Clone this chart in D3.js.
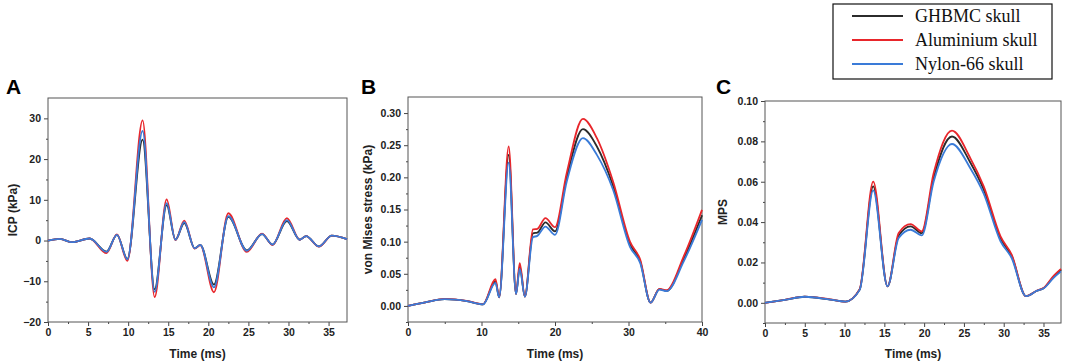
<!DOCTYPE html>
<html>
<head>
<meta charset="utf-8">
<title>ICP / von Mises / MPS</title>
<script src="https://cdn.jsdelivr.net/npm/d3@7"></script>
<style>
  body { margin: 0; background: #fff; }
  svg { display: block; }
  .tick text { font-family: "Liberation Sans", Arial, sans-serif; font-weight: bold; font-size: 10.5px; fill: #222; }
  .ttl { font-family: "Liberation Sans", Arial, sans-serif; font-weight: bold; font-size: 12px; fill: #222; }
  .plabel { font-family: "Liberation Sans", Arial, sans-serif; font-weight: bold; font-size: 21px; fill: #000; }
  .leg { font-family: "Liberation Serif", "Times New Roman", serif; font-size: 18px; fill: #111; }
</style>
</head>
<body>
<svg width="1065" height="363"></svg>
<script>
// ---- data ----
const seriesNames = ["GHBMC skull", "Aluminium skull", "Nylon-66 skull"];
const seriesColors = ["#2b2b2b", "#e8262b", "#3a7bd8"];

// A: ICP (kPa)
const timeA = [0, 1.5, 3.0, 5.2, 7.3, 8.6, 9.9, 11.8, 13.3, 14.8, 15.9, 17.0, 18.3, 19.0, 20.7, 22.5, 24.8, 26.7, 28.0, 29.8, 31.4, 32.2, 33.8, 35.4, 37.3];
const icpGhbmc = [0, 0.4, -0.4, 0.5, -2.7, 1.4, -4.5, 24.8, -12.0, 8.7, 0.2, 4.3, -1.9, -1.05, -10.8, 5.8, -2.4, 1.6, -1.0, 4.8, 0.2, 1.1, -1.45, 1.2, 0.35];
const icpAlu    = [0, 0.4, -0.4, 0.5, -3.1, 1.5, -5.0, 29.5, -13.9, 10.1, 0.1, 4.9, -2.0, -1.1, -12.7, 6.7, -2.8, 1.7, -1.1, 5.5, 0.2, 1.1, -1.5, 1.2, 0.35];
const icpNylon  = [0, 0.4, -0.4, 0.5, -2.8, 1.4, -4.6, 26.9, -12.6, 9.2, 0.2, 4.5, -1.9, -1.05, -11.5, 6.0, -2.5, 1.6, -1.0, 5.0, 0.2, 1.1, -1.45, 1.2, 0.35];

// B: von Mises stress (kPa)
const timeB = [0, 2.5, 5.0, 8.0, 10.2, 11.9, 12.4, 13.7, 14.7, 15.2, 15.9, 17.0, 17.6, 18.7, 20.0, 21.6, 23.8, 25.7, 27.9, 30.2, 31.6, 33.0, 34.2, 35.2, 37.5, 40];
const vmGhbmc = [0, 0.006, 0.0105, 0.0075, 0.0025, 0.038, 0.0135, 0.235, 0.0185, 0.061, 0.0145, 0.113, 0.114, 0.130, 0.116, 0.200, 0.275, 0.248, 0.187, 0.096, 0.069, 0.005, 0.026, 0.0235, 0.073, 0.141];
const vmAlu    = [0, 0.006, 0.011, 0.0078, 0.0026, 0.0415, 0.0135, 0.248, 0.0187, 0.0665, 0.0145, 0.119, 0.120, 0.1366, 0.1225, 0.207, 0.291, 0.261, 0.1936, 0.100, 0.0717, 0.0051, 0.0265, 0.0245, 0.0768, 0.1495];
const vmNylon  = [0, 0.006, 0.0105, 0.0075, 0.0025, 0.036, 0.0135, 0.223, 0.0185, 0.058, 0.0145, 0.107, 0.109, 0.1235, 0.1106, 0.1936, 0.261, 0.235, 0.1807, 0.092, 0.0665, 0.005, 0.0255, 0.023, 0.069, 0.134];

// C: MPS
const timeC = [0, 2.5, 5.0, 8.2, 10.1, 11.9, 13.6, 15.4, 16.8, 18.3, 19.7, 21.2, 23.5, 25.8, 27.5, 29.6, 31.0, 32.8, 34.2, 35.0, 36.3, 37.2];
const mpsGhbmc = [0, 0.0015, 0.003, 0.0016, 0.0006, 0.0066, 0.0577, 0.0082, 0.0333, 0.0379, 0.0345, 0.062, 0.0824, 0.0695, 0.056, 0.0318, 0.0232, 0.0033, 0.006, 0.0072, 0.013, 0.0164];
const mpsAlu    = [0, 0.0015, 0.0031, 0.0017, 0.0006, 0.0068, 0.0601, 0.0082, 0.0346, 0.039, 0.0354, 0.0643, 0.0853, 0.0717, 0.0576, 0.0329, 0.0239, 0.0033, 0.0061, 0.0073, 0.0135, 0.0168];
const mpsNylon  = [0, 0.0015, 0.003, 0.0016, 0.0006, 0.0064, 0.0557, 0.0082, 0.0321, 0.0362, 0.0334, 0.0601, 0.0787, 0.0667, 0.054, 0.0305, 0.0222, 0.0033, 0.006, 0.0071, 0.0125, 0.0156];

// tick values
const xTicksA = [0, 5, 10, 15, 20, 25, 30, 35];
const yTicksA = [-20, -10, 0, 10, 20, 30];
const xTicksB = [0, 10, 20, 30, 40];
const yTicksB = [0, 0.05, 0.10, 0.15, 0.20, 0.25, 0.30];
const xTicksC = [0, 5, 10, 15, 20, 25, 30, 35];
const yTicksC = [0, 0.02, 0.04, 0.06, 0.08, 0.10];

const svg = d3.select("svg");

function drawPanel(p) {
  const g = svg.append("g");
  const x = d3.scaleLinear().domain(p.xDomain).range([p.left, p.right]);
  const y = d3.scaleLinear().domain(p.yDomain).range([p.bottom, p.top]);

  // minor ticks
  g.append("g").attr("transform", `translate(0,${p.bottom})`)
    .call(d3.axisBottom(x).tickValues(p.xMinor).tickSize(2).tickFormat(""))
    .call(a => a.select(".domain").remove());
  g.append("g").attr("transform", `translate(${p.left},0)`)
    .call(d3.axisLeft(y).tickValues(p.yMinor).tickSize(2).tickFormat(""))
    .call(a => a.select(".domain").remove());

  // major ticks + labels
  g.append("g").attr("transform", `translate(0,${p.bottom})`)
    .call(d3.axisBottom(x).tickValues(p.xTicks).tickSize(4).tickPadding(3).tickFormat(d3.format("d")))
    .call(a => a.select(".domain").remove());
  g.append("g").attr("transform", `translate(${p.left},0)`)
    .call(d3.axisLeft(y).tickValues(p.yTicks).tickSize(4).tickPadding(3).tickFormat(p.yFormat))
    .call(a => a.select(".domain").remove());
  g.selectAll(".tick line").attr("stroke", "#444");

  // frame
  g.append("rect")
    .attr("x", p.left).attr("y", p.top)
    .attr("width", p.right - p.left).attr("height", p.bottom - p.top)
    .attr("fill", "none").attr("stroke", "#555").attr("stroke-width", 1);

  const line = d3.line()
    .x(d => x(d[0])).y(d => y(d[1]))
    .curve(d3.curveMonotoneX);

  p.series.forEach((vals, i) => {
    g.append("path")
      .datum(p.time.map((t, k) => [t, vals[k]]))
      .attr("fill", "none")
      .attr("stroke", seriesColors[i])
      .attr("stroke-width", 1.8)
      .attr("d", line);
  });

  g.append("text").attr("class", "ttl")
    .attr("x", (p.left + p.right) / 2).attr("y", 358)
    .attr("text-anchor", "middle").text("Time (ms)");
  g.append("text").attr("class", "ttl")
    .attr("transform", `translate(${p.yTitleX},${(p.top + p.bottom) / 2}) rotate(-90)`)
    .attr("text-anchor", "middle").text(p.yTitle);
  g.append("text").attr("class", "plabel")
    .attr("x", p.labelX).attr("y", p.labelY).text(p.label);
}

const minusFmt = d => d < 0 ? "\u2212" + Math.abs(d) : String(d);

drawPanel({
  label: "A", labelX: 6, labelY: 94,
  left: 48, right: 347, top: 98, bottom: 322,
  xDomain: [0, 37.3], yDomain: [-20, 35],
  xTicks: xTicksA, yTicks: yTicksA,
  xMinor: d3.range(2.5, 37.3, 5), yMinor: d3.range(-15, 35, 10),
  yFormat: minusFmt, yTitle: "ICP (kPa)", yTitleX: 17,
  time: timeA, series: [icpGhbmc, icpAlu, icpNylon]
});

drawPanel({
  label: "B", labelX: 361, labelY: 94,
  left: 408, right: 702, top: 97, bottom: 322,
  xDomain: [0, 40], yDomain: [-0.025, 0.325],
  xTicks: xTicksB, yTicks: yTicksB,
  xMinor: d3.range(5, 40, 10), yMinor: d3.range(-0.025, 0.325, 0.05),
  yFormat: d3.format(".2f"), yTitle: "von Mises stress (kPa)", yTitleX: 372,
  time: timeB, series: [vmGhbmc, vmAlu, vmNylon]
});

drawPanel({
  label: "C", labelX: 716, labelY: 94,
  left: 765, right: 1061, top: 101, bottom: 323,
  xDomain: [0, 37.2], yDomain: [-0.01, 0.10],
  xTicks: xTicksC, yTicks: yTicksC,
  xMinor: d3.range(2.5, 37.2, 5), yMinor: d3.range(-0.01, 0.10, 0.02),
  yFormat: d3.format(".2f"), yTitle: "MPS", yTitleX: 727,
  time: timeC, series: [mpsGhbmc, mpsAlu, mpsNylon]
});

// legend
const leg = svg.append("g");
leg.append("rect").attr("x", 833).attr("y", 4).attr("width", 219).attr("height", 75)
  .attr("fill", "#fff").attr("stroke", "#111").attr("stroke-width", 1.2);
const legY = d3.scalePoint().domain(seriesNames).range([16, 64]);
seriesNames.forEach((name, i) => {
  leg.append("line")
    .attr("x1", 852).attr("x2", 903)
    .attr("y1", legY(name)).attr("y2", legY(name))
    .attr("stroke", seriesColors[i]).attr("stroke-width", 2.2);
  leg.append("text").attr("class", "leg")
    .attr("x", 915).attr("y", legY(name) + 6).text(name);
});
</script>
</body>
</html>
